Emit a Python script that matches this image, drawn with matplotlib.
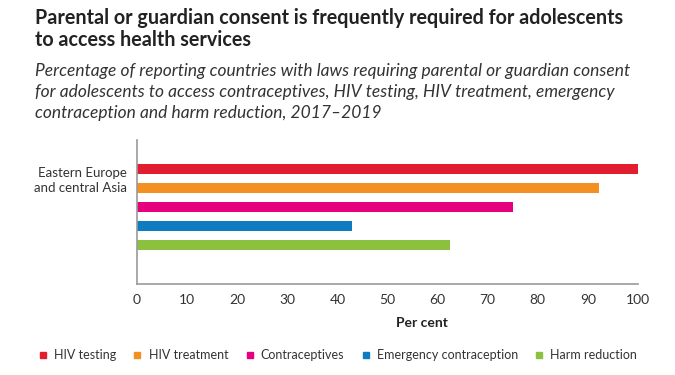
import matplotlib
matplotlib.use("Agg")
import matplotlib.pyplot as plt
from matplotlib.lines import Line2D

plt.rcParams["font.family"] = ["Lato", "DejaVu Sans"]

region = ["Eastern Europe\nand central Asia"]
series = ["HIV testing", "HIV treatment", "Contraceptives",
          "Emergency contraception", "Harm reduction"]
values = [100, 92.3, 75, 42.9, 62.5]
colors = ["#E31D30", "#F39021", "#E6007E", "#0F7BC1", "#8CC13F"]
xticks = list(range(0, 101, 10))

fig = plt.figure(figsize=(6.75, 3.75), dpi=100)
ax = fig.add_axes([0.203, 0.243, 0.742, 0.384])

for i, (name, v, c) in enumerate(zip(series, values, colors)):
    ax.barh(i, v, height=0.5, color=c, label=name)

ax.set_xlim(0, 100)
ax.set_ylim(6.05, -1.53)
ax.set_xticks(xticks)
ax.set_yticks([0.47])
ax.set_yticklabels(region, fontsize=9.5, color="#333333", linespacing=1.35)
ax.tick_params(axis="both", length=0, colors="#333333")
ax.tick_params(axis="x", labelsize=10, pad=7)
ax.tick_params(axis="y", pad=7)
for s in ["top", "right"]:
    ax.spines[s].set_visible(False)
for s in ["left", "bottom"]:
    ax.spines[s].set_color("#9a9a9a")
    ax.spines[s].set_linewidth(1.2)

fig.text(0.625, 1 - 323 / 375, "Per cent", ha="center", va="center",
         fontsize=10, fontweight="bold", color="#222222")

fig.text(0.052, 1 - 18 / 375, "Parental or guardian consent is frequently required for adolescents",
         fontsize=14.2, fontweight="bold", color="#222222", va="center")
fig.text(0.052, 1 - 40 / 375, "to access health services",
         fontsize=14.2, fontweight="bold", color="#222222", va="center")
sub = ["Percentage of reporting countries with laws requiring parental or guardian consent",
       "for adolescents to access contraceptives, HIV testing, HIV treatment, emergency",
       "contraception and harm reduction, 2017\u20132019"]
for k, line in enumerate(sub):
    fig.text(0.052, 1 - (71 + 21 * k) / 375, line, fontsize=12.5, fontstyle="italic",
             color="#333333", va="center")

handles = [Line2D([], [], marker="s", linestyle="none", markersize=5,
                  markerfacecolor=c, markeredgecolor=c) for c in colors]
fig.legend(handles, series, loc="center", bbox_to_anchor=(0.5, 1 - 355 / 375),
           ncol=5, frameon=False, fontsize=9, handlelength=0.8, handletextpad=0.5,
           columnspacing=1.3, labelcolor="#333333")

fig.savefig("out.png", dpi=100)
